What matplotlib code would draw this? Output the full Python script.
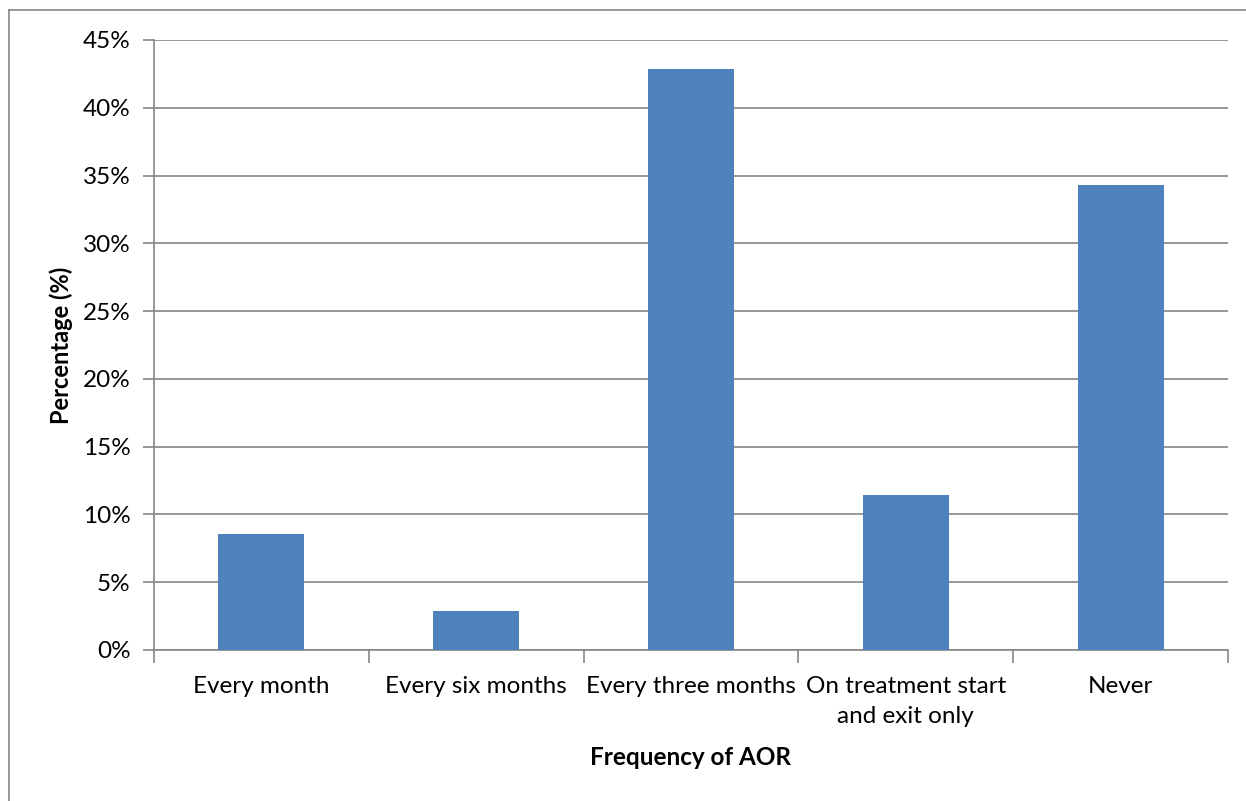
import matplotlib
matplotlib.use("Agg")
import matplotlib.pyplot as plt
from matplotlib.ticker import FuncFormatter, MultipleLocator
from matplotlib.lines import Line2D

categories = ["Every month", "Every six months", "Every three months",
              "On treatment start\nand exit only", "Never"]
values = [8.57, 2.86, 42.86, 11.43, 34.29]

plt.rcParams['font.family'] = ['Lato', 'DejaVu Sans']

W, H = 1246, 801
fig = plt.figure(figsize=(W / 100, H / 100), dpi=100)
ax = fig.add_axes([154 / W, 1 - 650 / H, (1228 - 154) / W, (650 - 40) / H])

x = list(range(len(categories)))
ax.bar(x, values, width=0.4, color="#4F81BD", zorder=3)
ax.set_xlim(-0.5, len(categories) - 0.5)
ax.set_ylim(0, 45)
ax.yaxis.set_major_locator(MultipleLocator(5))
ax.yaxis.set_major_formatter(FuncFormatter(lambda v, p: f"{int(round(v))}%"))
ax.grid(axis='y', color="#868686", linewidth=1.2, zorder=0)

for s in ['top', 'right']:
    ax.spines[s].set_visible(False)
for s in ['left', 'bottom']:
    ax.spines[s].set_color("#868686")
    ax.spines[s].set_linewidth(1.2)

ax.set_xticks([i - 0.5 for i in range(len(categories) + 1)], minor=False)
ax.set_xticklabels([])
ax.set_xticks(x, minor=True)
ax.set_xticklabels(categories, minor=True, fontsize=17.5, linespacing=1.55)
ax.tick_params(axis='x', which='minor', length=0, pad=18.5)
ax.tick_params(axis='x', which='major', length=9, color="#868686", width=1.2)
ax.tick_params(axis='y', length=8, color="#868686", width=1.2, labelsize=17.5, pad=9)

ax.set_ylabel("Percentage (%)", fontsize=17, fontweight='bold', labelpad=7)
ax.set_xlabel("Frequency of AOR", fontsize=17.5, fontweight='bold', labelpad=14)

# outer border (top and left visible)
fig.add_artist(Line2D([9 / W, 1], [1 - 10 / H, 1 - 10 / H], color="#868686", lw=1.2, transform=fig.transFigure))
fig.add_artist(Line2D([9 / W, 9 / W], [0, 1 - 10 / H], color="#868686", lw=1.2, transform=fig.transFigure))

fig.savefig("out.png", dpi=100)
